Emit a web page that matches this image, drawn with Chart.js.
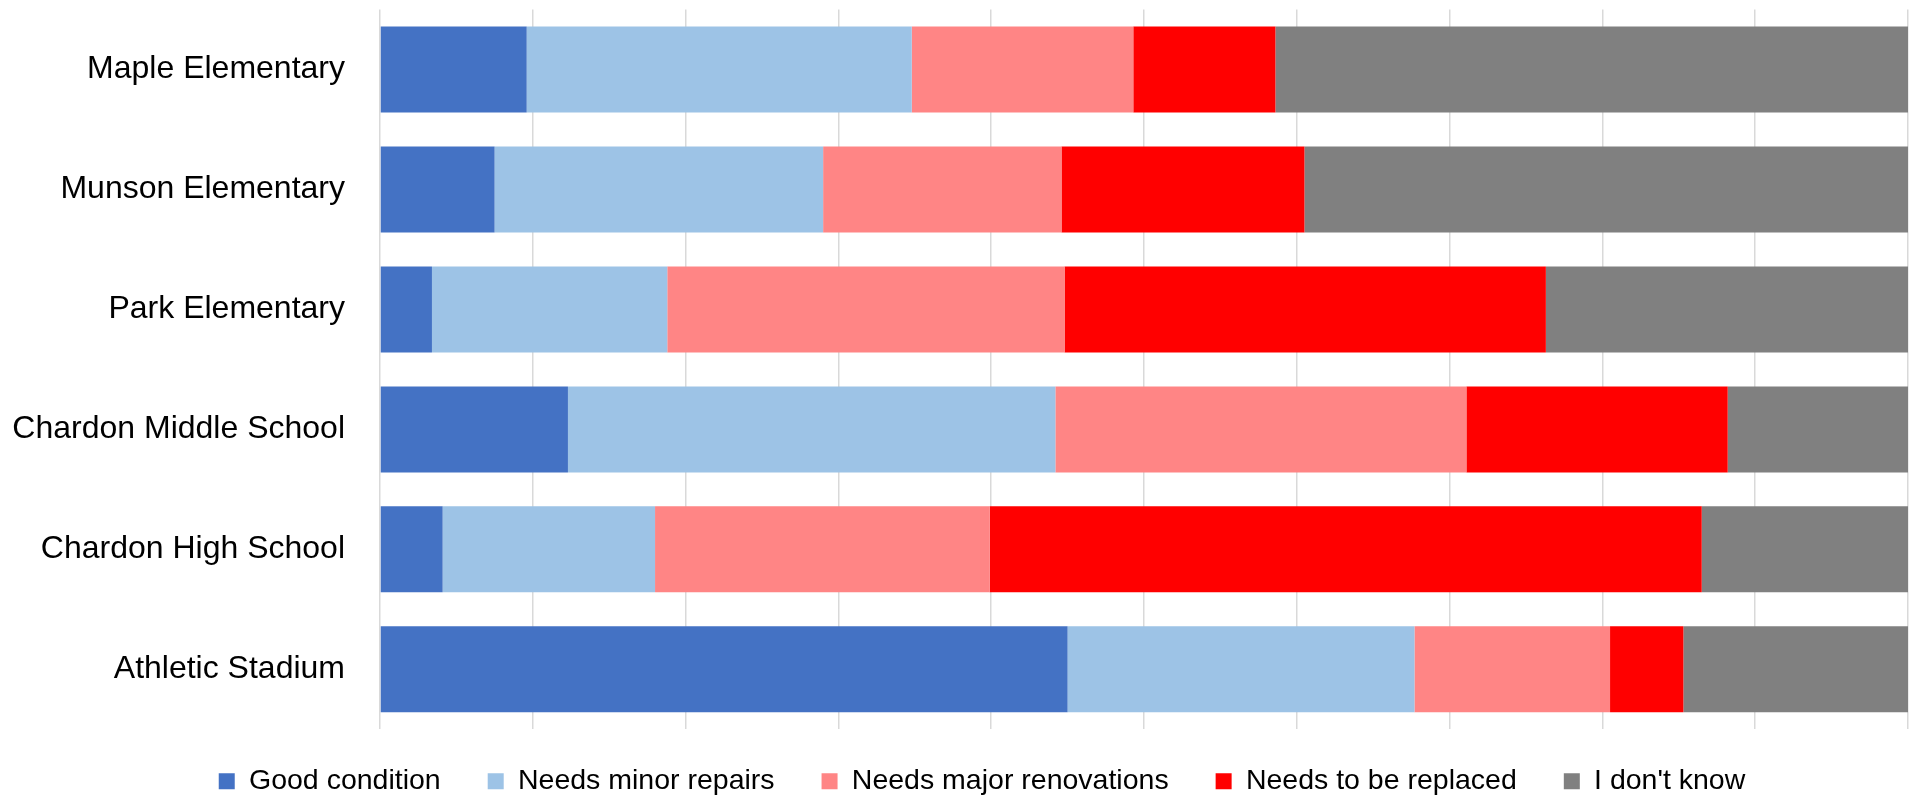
<!DOCTYPE html>
<html>
<head>
<meta charset="utf-8">
<script src="https://cdn.jsdelivr.net/npm/chart.js@4/dist/chart.umd.min.js"></script>
<style>
  html, body { margin: 0; padding: 0; background: #fff; }
  #wrap { width: 1923px; height: 798px; position: relative; }
</style>
</head>
<body>
<div id="wrap"><canvas id="myChart"></canvas></div>
<script>
// schools, top to bottom
var schools = ["Maple Elementary", "Munson Elementary", "Park Elementary",
               "Chardon Middle School", "Chardon High School", "Athletic Stadium"];

// share of answers per school, in percent
var goodCondition      = [9.6, 7.5, 3.4, 12.3, 4.1, 45.0];
var minorRepairs       = [25.2, 21.5, 15.4, 31.9, 13.9, 22.7];
var majorRenovations   = [14.5, 15.6, 26.0, 26.9, 21.9, 12.8];
var toBeReplaced       = [9.3, 15.9, 31.5, 17.1, 46.6, 4.8];
var dontKnow           = [41.4, 39.5, 23.7, 11.8, 13.5, 14.7];

var xTicks = [0, 10, 20, 30, 40, 50, 60, 70, 80, 90, 100];

var labelFont = "Liberation Sans";
var legendTop = 720;   // where the legend row starts
var legendNudge = 28;  // legend sits a bit right of the page centre

var ctx = document.getElementById("myChart");

function series(label, values, color) {
    return {
        label: label,
        data: values,
        backgroundColor: color,
        borderWidth: 0,
        categoryPercentage: 1,
        barPercentage: 0.717
    };
}

// legend padding also sets the gap between items, so move the row after layout
var legendShift = {
    id: "legendShift",
    afterLayout: function(chart) {
        var lg = chart.legend;
        var h = lg.bottom - lg.top;
        lg.top = legendTop;
        lg.bottom = legendTop + h;
        lg.left += legendNudge;
        lg.right += legendNudge;
    }
};

var data = {
    labels: schools,
    datasets: [
        series("Good condition", goodCondition, "#4472C4"),
        series("Needs minor repairs", minorRepairs, "#9DC3E6"),
        series("Needs major renovations", majorRenovations, "#FF8585"),
        series("Needs to be replaced", toBeReplaced, "#FF0000"),
        series("I don't know", dontKnow, "#808080")
    ]
};

var options = {
    indexAxis: "y",
    responsive: true,
    maintainAspectRatio: false,
    animation: false,
    layout: {
        padding: { top: 9.5, right: 15, left: 0, bottom: -16.8 }
    },
    scales: {
        x: {
            stacked: true,
            min: 0,
            max: 100,
            afterBuildTicks: function(axis) {
                axis.ticks = xTicks.map(function(v) { return { value: v }; });
            },
            afterFit: function(axis) {
                axis.height = 0;
                axis.paddingLeft = 0;
                axis.paddingRight = 0;
            },
            ticks: { display: false },
            grid: { color: "#d9d9d9", lineWidth: 1.5, drawTicks: false },
            border: { display: false }
        },
        y: {
            stacked: true,
            afterFit: function(axis) {
                axis.width = 380;
                axis.paddingTop = 0;
                axis.paddingBottom = 0;
            },
            ticks: {
                color: "#000",
                padding: 35,
                font: { family: labelFont, size: 32 }
            },
            grid: { display: false, drawTicks: false },
            border: { display: false }
        }
    },
    plugins: {
        tooltip: { enabled: false },
        legend: {
            display: true,
            position: "bottom",
            labels: {
                color: "#000",
                boxWidth: 16,
                boxHeight: 16,
                padding: 47,
                font: { family: labelFont, size: 28.5 }
            }
        }
    }
};

var chart = new Chart(ctx, {
    type: "bar",
    data: data,
    options: options,
    plugins: [legendShift]
});
</script>
</body>
</html>
